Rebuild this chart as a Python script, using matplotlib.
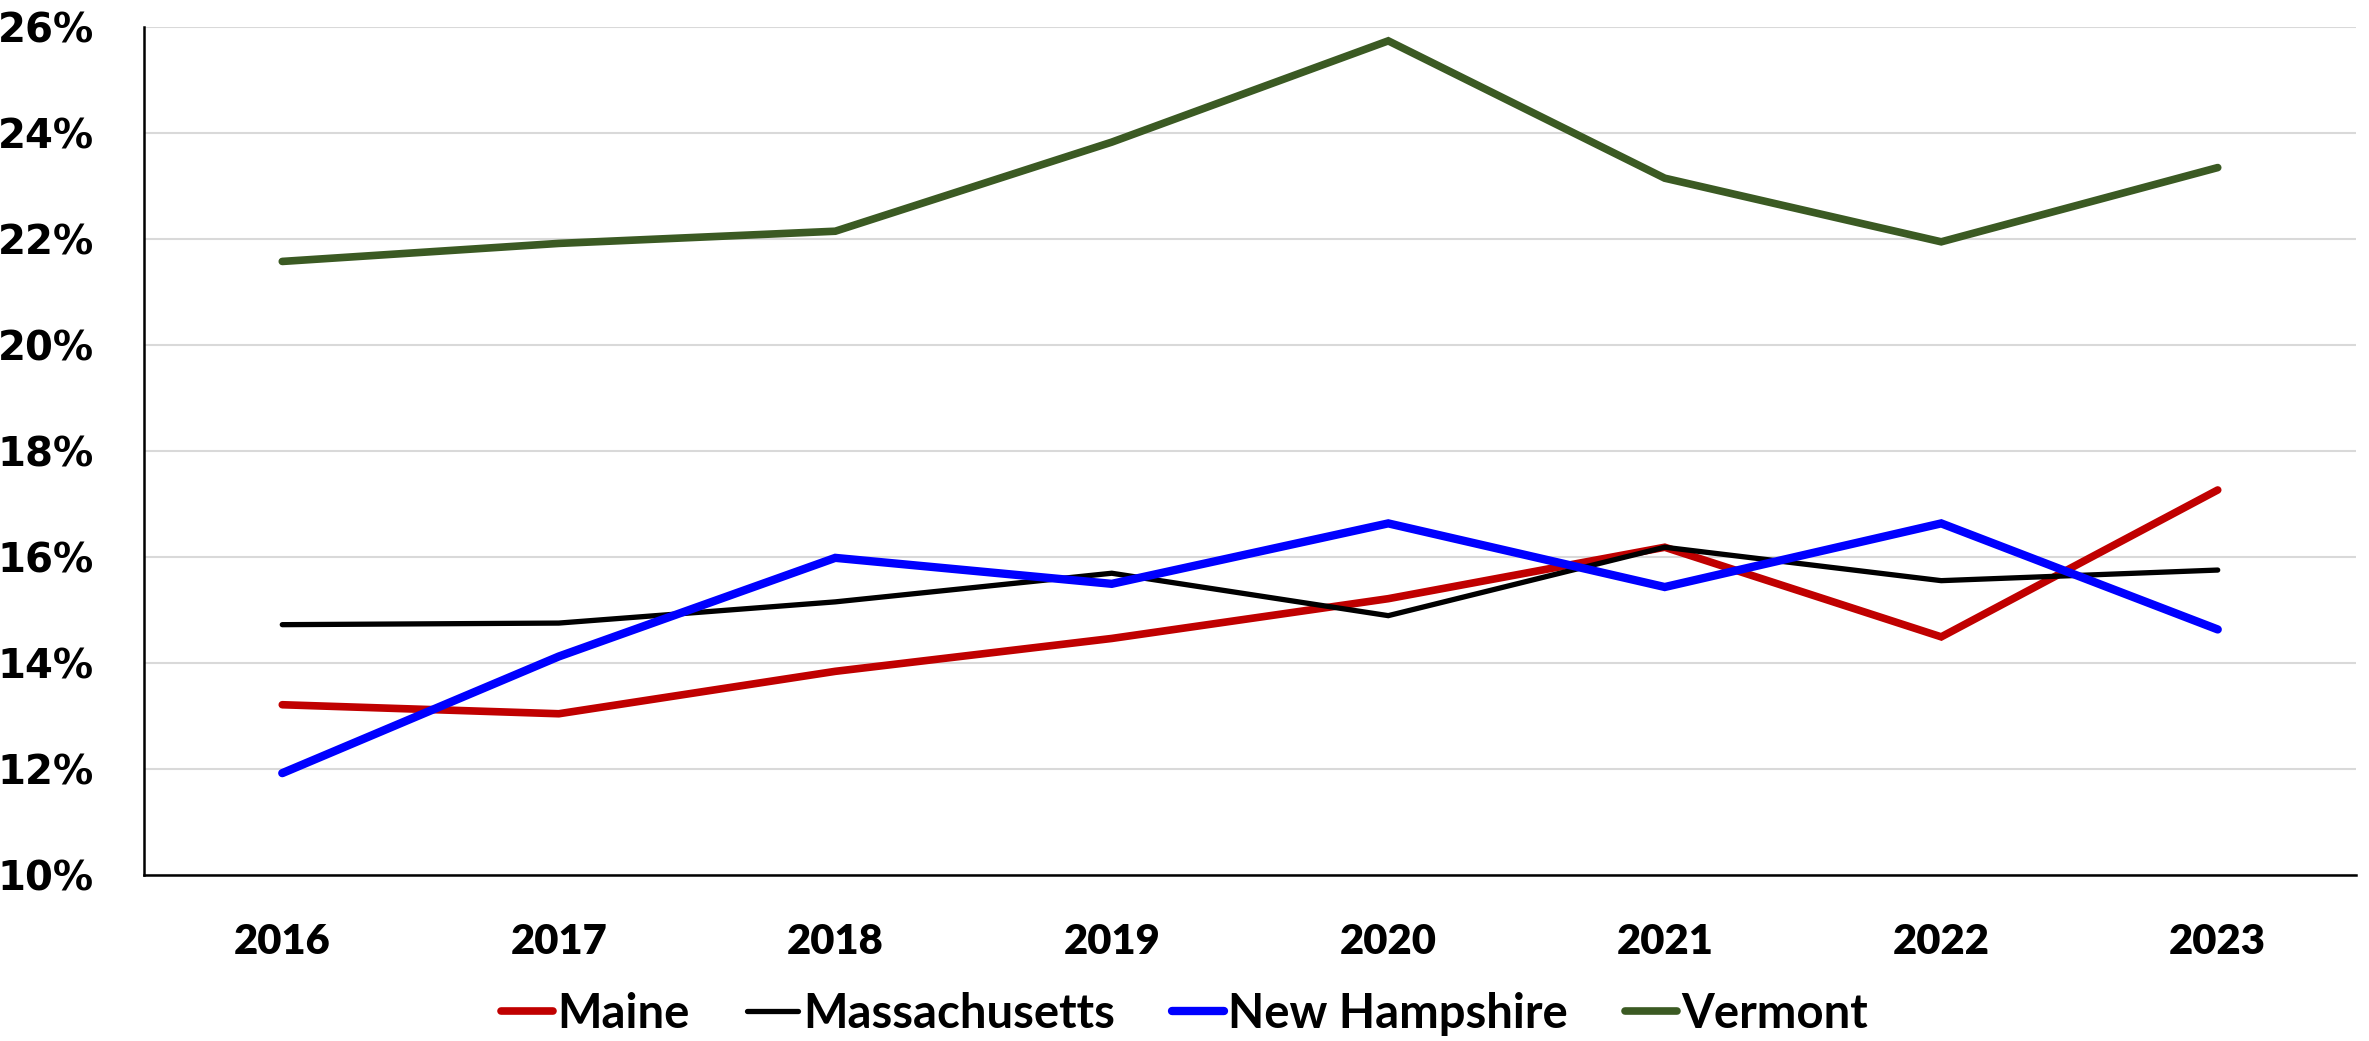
import matplotlib
matplotlib.use('Agg')
import matplotlib.pyplot as plt
from matplotlib.ticker import FuncFormatter

# data (percent)
years = ['2016', '2017', '2018', '2019', '2020', '2021', '2022', '2023']
maine = [13.22, 13.05, 13.85, 14.47, 15.22, 16.19, 14.50, 17.27]
massachusetts = [14.73, 14.76, 15.16, 15.70, 14.90, 16.19, 15.56, 15.76]
new_hampshire = [11.93, 14.13, 15.99, 15.50, 16.64, 15.44, 16.64, 14.64]
vermont = [21.58, 21.92, 22.15, 23.83, 25.74, 23.15, 21.95, 23.35]

labels = ['Maine', 'Massachusetts', 'New Hampshire', 'Vermont']
colors = ['#C00000', '#000000', '#0000FF', '#3B5A23']
widths = [5.5, 3.8, 6.0, 5.5]

fig = plt.figure(figsize=(23.69, 10.41), dpi=100)
ax = fig.add_axes([0.0608, 0.159, 0.9337, 0.815])

x = list(range(len(years)))
for vals, lab, col, lw in zip([maine, massachusetts, new_hampshire, vermont], labels, colors, widths):
    ax.plot(x, vals, color=col, lw=lw, label=lab, solid_capstyle='round', solid_joinstyle='miter')

ax.set_xlim(-0.5, len(years) - 0.5)
ax.set_ylim(10, 26)
ax.set_yticks(range(10, 27, 2))
ax.yaxis.set_major_formatter(FuncFormatter(lambda v, p: '%d%%' % v))
ax.set_xticks(x)
ax.set_xticklabels(years)

ax.grid(axis='y', color='#D9D9D9', lw=1.5)
ax.set_axisbelow(True)
for s in ['top', 'right']:
    ax.spines[s].set_visible(False)
ax.spines['left'].set_linewidth(1.8)
ax.spines['bottom'].set_linewidth(1.8)
ax.tick_params(length=0)
ax.tick_params(axis='y', pad=36)
ax.tick_params(axis='x', pad=34)

for t in ax.get_yticklabels():
    t.set_fontfamily('DejaVu Sans')
    t.set_fontweight('bold')
    t.set_fontsize(29)
for t in ax.get_xticklabels():
    t.set_fontfamily(['Lato', 'DejaVu Sans'])
    t.set_fontweight('heavy')
    t.set_fontsize(30)

leg = fig.legend(loc='lower center', bbox_to_anchor=(0.5, -0.036), ncol=4, frameon=False,
                 prop={'family': ['Liberation Sans Narrow', 'Lato', 'DejaVu Sans'], 'weight': 'bold', 'size': 34},
                 handlelength=1.1, handletextpad=0.1, columnspacing=1.2)

fig.savefig('out.png', dpi=100)
